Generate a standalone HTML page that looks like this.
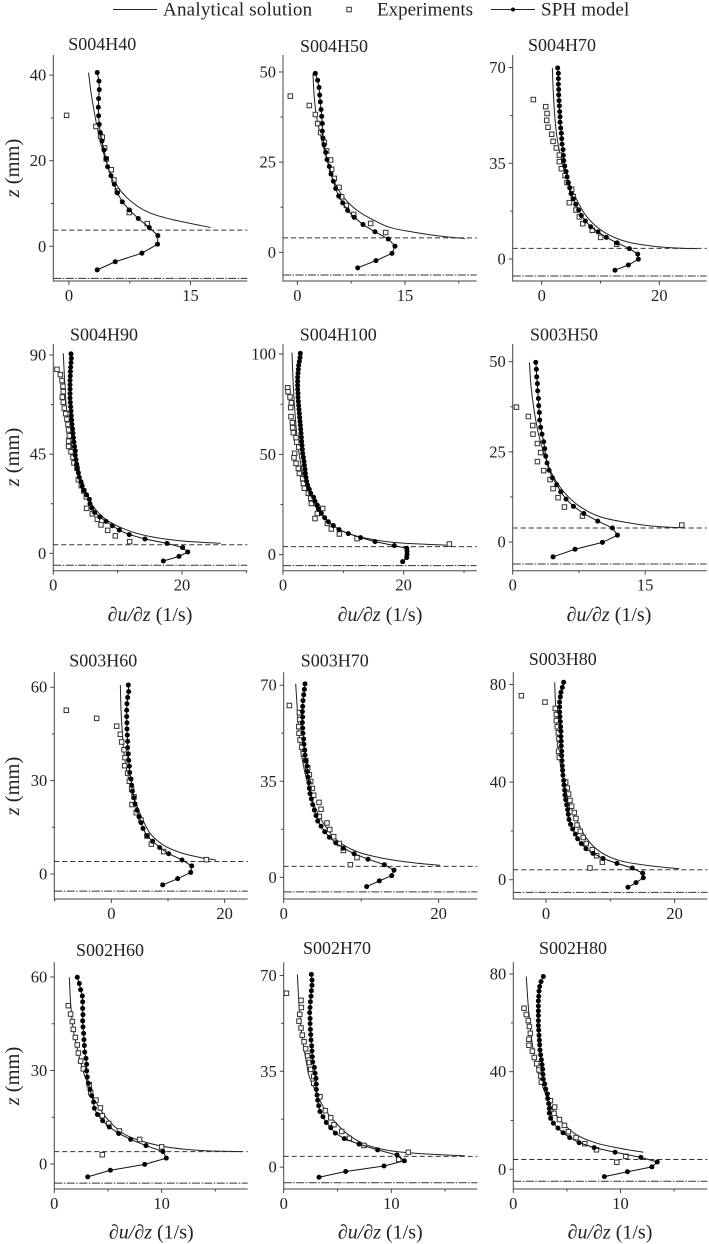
<!DOCTYPE html>
<html lang="en">
<head>
<meta charset="utf-8">
<title>Shear rate profiles</title>
<style>
html,body{margin:0;padding:0;background:#fff;}
svg{display:block;font-family:"Liberation Serif","DejaVu Serif",serif;fill:#222;filter:blur(0.25px);}
</style>
</head>
<body>
<svg id="chart" xmlns="http://www.w3.org/2000/svg" width="709" height="1244" viewBox="0 0 709 1244">
  <g>
    <line x1="113" x2="157" y1="9.5" y2="9.5" stroke="#222" stroke-width="1"/>
    <text x="163" y="15.5" font-size="19" letter-spacing="0.22">Analytical solution</text>
    <rect x="346.8" y="7.3" width="4.5" height="4.5" fill="#fff" stroke="#333" stroke-width="1"/>
    <text x="377" y="15.5" font-size="19">Experiments</text>
    <line x1="491" x2="535" y1="9.5" y2="9.5" stroke="#222" stroke-width="1"/>
    <circle cx="513" cy="9.5" r="2" fill="#000"/>
    <text x="541" y="15.5" font-size="19" letter-spacing="0.15">SPH model</text>
  </g>
  <g font-size="18" text-anchor="middle">
    <text x="102.3" y="50">S004H40</text>
    <text x="334" y="52">S004H50</text>
    <text x="562" y="51">S004H70</text>
    <text x="104" y="340.7">S004H90</text>
    <text x="338.3" y="340.7">S004H100</text>
    <text x="564" y="340.7">S003H50</text>
    <text x="103.3" y="666.7">S003H60</text>
    <text x="334.7" y="666.7">S003H70</text>
    <text x="562.7" y="665">S003H80</text>
    <text x="110" y="956">S002H60</text>
    <text x="337" y="954">S002H70</text>
    <text x="573" y="954">S002H80</text>
  </g>
  <g font-size="20.5" text-anchor="middle">
    <text transform="translate(19,168) rotate(-90)"><tspan font-style="italic">z</tspan> (mm)</text>
    <text transform="translate(19,457) rotate(-90)"><tspan font-style="italic">z</tspan> (mm)</text>
    <text transform="translate(19,786) rotate(-90)"><tspan font-style="italic">z</tspan> (mm)</text>
    <text transform="translate(19,1076) rotate(-90)"><tspan font-style="italic">z</tspan> (mm)</text>
  </g>
  <g font-size="20" text-anchor="middle">
    <text x="150" y="621"><tspan font-style="italic">∂u/∂z</tspan> (1/s)</text>
    <text x="380" y="621"><tspan font-style="italic">∂u/∂z</tspan> (1/s)</text>
    <text x="609" y="621"><tspan font-style="italic">∂u/∂z</tspan> (1/s)</text>
    <text x="151.3" y="1238.5"><tspan font-style="italic">∂u/∂z</tspan> (1/s)</text>
    <text x="380.3" y="1238.5"><tspan font-style="italic">∂u/∂z</tspan> (1/s)</text>
    <text x="610" y="1238.5"><tspan font-style="italic">∂u/∂z</tspan> (1/s)</text>
  </g>
  <g id="panels"></g>
</svg>
<script>
// ---- S004H40 ----
const s004h40AnalyticX=[2.42,2.67,3,3.41,4.03,5.06,6.29,7.93,9.99,12.86,17.47];
const s004h40AnalyticZ=[40.6,36.6,32.7,28.5,23.3,17.5,13.2,10.1,7.8,6.2,4.4];
const s004h40ExpX=[-0.29,3.33,3.9,4.11,4.4,4.6,5.22,5.55,5.96,7.44,9.66];
const s004h40ExpZ=[30.6,28,25.7,25.5,23,20.4,17.9,15.5,12.9,7.9,5.3];
const s004h40ModelX=[3.49,3.7,3.74,3.66,3.62,3.66,3.74,3.86,4.07,4.32,4.56,4.77,5.18,5.59,5.96,6.58,7.44,8.55,9.91,10.97,10.93,9,5.71,3.49];
const s004h40ModelZ=[40.6,38.6,36.6,34.5,32.5,30.5,28.5,26.6,24.6,22.5,20.5,18.6,16.5,14.5,12.5,10.4,8.5,6.5,4.4,2.5,0.5,-1.6,-3.6,-5.5];
// ---- S004H50 ----
const s004h50AnalyticX=[2.18,2.32,2.6,3.16,3.99,5.02,6.41,8.27,10.59,12.91,16.16,19.88,23.36];
const s004h50AnalyticZ=[49.6,44.1,38.5,33,26.6,20.1,15.4,11.7,8.96,6.9,5.6,4.5,3.8];
const s004h50ExpX=[-0.98,1.67,2.51,2.83,3.25,3.76,4.09,4.64,4.78,5.16,5.81,6.18,6.83,7.85,10.22,12.31];
const s004h50ExpZ=[43.3,40.7,38.2,35.7,33.2,30.5,28.1,25.6,23,20.5,18,15.4,13,10.5,8,5.5];
const s004h50ModelX=[2.51,2.83,3.02,3.11,3.2,3.3,3.39,3.48,3.48,3.58,3.72,3.95,4.13,4.46,4.69,5.02,5.34,5.76,6.32,7.01,7.94,9.15,10.82,12.68,13.61,13.19,10.96,8.41];
const s004h50ModelZ=[49.6,47.7,45.7,43.6,41.7,39.6,37.7,35.7,33.6,31.7,29.8,27.7,25.7,23.8,21.7,19.7,17.7,15.6,13.7,11.6,9.7,7.7,5.7,3.7,1.7,-0.3,-2.3,-4.3];
// ---- S004H70 ----
const s004h70AnalyticX=[1.81,1.98,2.27,2.66,3.23,4.25,5.67,7.65,10.48,14.45,19.55,24.08,26.46];
const s004h70AnalyticZ=[69.9,60.6,50.9,43.6,37.5,30.2,22.9,15.5,10,6.3,4.5,3.9,3.8];
const s004h70ExpX=[-1.42,0.68,0.91,0.85,1.08,1.7,1.93,2.49,3,3,3.34,3.97,4.31,5.1,5.38,4.7,5.84,6.4,6.97,8.61,10.03,12.75];
const s004h70ExpZ=[58.3,55.7,53.2,50.7,48.2,45.6,43,40.6,38,35.6,33,30.5,27.9,25.5,22.8,20.6,17.9,15.4,12.9,10.5,7.9,5.4];
const s004h70ModelX=[2.72,2.83,2.83,2.83,2.89,2.89,2.95,3,3.06,3.12,3.12,3.23,3.34,3.4,3.46,3.63,3.68,3.74,3.91,4.14,4.31,4.53,4.76,4.99,5.38,5.78,6.29,6.74,7.42,8.33,9.58,10.99,12.8,14.9,16.32,16.43,14.73,12.46];
const s004h70ModelZ=[69.9,67.9,65.9,63.9,62,60,57.9,56,53.9,52,50,47.9,46,44,42,40,37.9,36,34,32,30,27.9,26,23.9,22,20,17.9,15.9,13.9,11.8,9.9,7.9,5.9,3.8,1.8,-0.1,-2.2,-4.1];
// ---- S004H90 ----
const s004h90AnalyticX=[1.55,1.81,2.07,2.59,3.21,4.4,6.22,8.29,11.4,15.03,19.69,26];
const s004h90AnalyticZ=[90.8,75.6,65,54.5,42.4,30.3,21.2,15.1,10.6,7.6,5.7,4.5];
const s004h90ExpX=[0.57,1.09,1.35,1.5,1.55,1.4,1.55,1.71,1.92,2.12,2.28,2.38,2.49,2.38,2.38,2.75,3.06,3.21,3.68,3.89,4.35,4.72,5.13,5.18,6.06,6.84,7.41,8.45,9.64,11.87];
const s004h90ExpZ=[83.5,81.1,78.4,75.8,73.4,70.9,68.6,65.9,63.4,60.9,58.5,56,53.3,50.9,48.5,46.1,43.6,41,38.6,33.4,30.7,28.3,25.6,20.4,17.9,15.4,12.9,10.4,7.9,5.3];
const s004h90ModelX=[17.1,19.53,20.9,20.1,17.67,14.25,11.8,10.26,9.17,8.19,7.25,6.42,6,5.7,5.6,5.18,4.77,4.5,4.3,4.04,3.9,3.73,3.63,3.52,3.42,3.42,3.3,3.2,3.13,3.06,3,2.9,2.85,2.8,2.75,2.7,2.64,2.6,2.6,2.6,2.6,2.6,2.64,2.66,2.7,2.75,2.8,2.75];
const s004h90ModelZ=[-3.5,-1.4,0.6,2.6,4.5,6.5,8.5,10.5,12.5,14.5,16.5,18.5,20.5,22.5,24.5,26.5,28.5,30.5,32.5,34.5,36.5,38.5,40.5,42.5,44.5,46.5,48.5,50.5,52.5,54.5,56.5,58.5,60.5,62.5,64.5,66.5,68.5,70.5,72.5,74.5,76.5,78.5,80.5,82.5,84.5,86.5,88.5,90.5];
// ---- S004H100 ----
const s004h100AnalyticX=[1.49,1.71,1.99,2.38,2.93,3.65,5.03,7.24,10,13.87,18.84,27.13];
const s004h100AnalyticZ=[100.7,83.7,70.4,57.1,45.5,35.5,25.6,17.3,11.5,8.1,6,4.7];
const s004h100ExpX=[0.77,0.83,1.16,1.38,1.27,1.33,1.55,1.6,1.71,2.16,2.27,2.6,1.93,1.82,2.16,2.54,2.71,3.26,3.37,3.54,4.2,4.59,4.7,6.58,5.69,5.3,7.35,8.01,9.34,12.27,27.57];
const s004h100ExpZ=[83.2,81.2,78.6,75.7,73.3,68.8,65.8,63.3,60.8,58.3,56.1,53.6,50.5,48.3,45.5,43,40.5,37.9,35.5,33.1,30.6,28.1,25.5,23,20.5,18,15.6,12.8,10.3,8,5.3];
const s004h100ModelX=[19.83,20.5,20.55,20.55,20.5,18.45,15.25,12.87,10.83,9.28,8.34,7.51,6.91,6.35,5.91,5.69,5.3,5.08,4.59,4.36,4.09,3.92,3.81,3.7,3.65,3.54,3.48,3.37,3.26,3.2,3.15,3.09,3.04,2.98,2.93,2.87,2.82,2.76,2.71,2.65,2.6,2.54,2.49,2.49,2.43,2.43,2.43,2.43,2.49,2.54,2.6,2.71,2.82,2.87];
const s004h100ModelZ=[-3.5,-1.5,0,1.7,3.2,4.5,6.5,8.5,10.5,12.5,14.5,16.4,18.4,20.6,22.6,24.6,26.6,28.6,30.6,32.6,34.6,36.5,38.5,40.5,42.5,44.5,46.5,48.5,50.5,52.5,54.5,56.5,58.5,60.5,62.5,64.5,66.4,68.4,70.4,72.4,74.4,76.4,78.4,80.4,82.4,84.4,86.4,88.4,90.4,92.4,94.4,96.3,98.3,100.3];
// ---- S003H50 ----
const s003h50AnalyticX=[1.89,2.08,2.42,2.91,3.66,4.61,5.93,7.63,9.9,12.92,16.32,18.96];
const s003h50AnalyticZ=[49.8,43.1,36.6,30.1,23.7,18.1,13.5,9.8,7,5.4,4.3,4];
const s003h50ExpX=[0.42,1.78,2.27,2.3,2.8,3.17,2.8,3.51,4.23,4.57,5.14,5.86,7.9,19.15];
const s003h50ExpZ=[37.4,34.8,32.3,29.9,27.3,24.8,22.3,19.8,17.3,14.8,12.3,9.7,7.2,4.7];
const s003h50ModelX=[4.57,7.06,10.16,11.86,11.3,9.63,8.05,6.88,6.04,5.44,4.99,4.5,4.12,3.89,3.74,3.63,3.51,3.32,3.17,3.06,3.02,2.95,2.91,2.83,2.8,2.72,2.68,2.61];
const s003h50ModelZ=[-4.1,-2,-0.1,1.9,3.9,5.8,7.9,9.9,11.9,13.9,15.9,17.8,19.9,21.9,23.8,25.9,27.8,29.9,31.8,33.8,35.9,37.8,39.8,41.9,43.9,45.8,47.9,49.8];
// ---- S003H60 ----
const s003h60AnalyticX=[1.59,1.71,1.94,2.24,2.82,3.76,5.06,6.82,9.18,12.12,15.65,18.47];
const s003h60AnalyticZ=[60.7,52.7,45.2,38.8,32.4,25.9,19.5,13.1,9.3,6.9,5.3,4.5];
const s003h60ExpX=[-7.94,-2.59,0.94,1.59,1.82,2.24,2.41,2.35,2.88,3.18,3.59,4,3.65,4.41,5.24,6.29,7.06,9.24,16.76];
const s003h60ExpZ=[52.6,50,47.5,44.9,42.4,39.9,37.4,34.8,32.4,29.8,27.2,24.8,22.3,19.7,17.3,12.2,9.6,7.2,4.6];
const s003h60ModelX=[3,3.06,2.88,2.76,2.71,2.71,2.76,2.76,2.82,2.88,2.88,3,3.06,3.18,3.24,3.47,3.59,3.71,4,4.18,4.53,4.88,5.24,5.59,6.29,7.29,8.53,10.12,12.47,14.18,14,11.71,9.06];
const s003h60ModelZ=[60.7,58.6,56.7,54.7,52.6,50.6,48.6,46.6,44.6,42.6,40.6,38.6,36.5,34.6,32.6,30.5,28.5,26.6,24.5,22.5,20.5,18.4,16.5,14.6,12.3,10.5,8.5,6.5,4.5,2.6,0.5,-1.5,-3.5];
// ---- S003H70 ----
const s003h70AnalyticX=[1.55,1.76,2.02,2.41,2.97,3.83,5.12,6.84,9.42,12.86,16.73,20.17];
const s003h70AnalyticZ=[70.5,61,51.3,42.8,35.5,27,19.7,13.6,9.4,6.9,5.3,4.4];
const s003h70ExpX=[0.73,2.02,2.06,1.94,1.98,2.11,2.32,2.54,2.84,3.1,3.31,3.48,3.7,3.87,4.56,4.82,4.6,5.59,5.94,6.45,7.18,7.7,9.46,8.6];
const s003h70ExpZ=[62.6,60,57.5,54.9,52.5,50,47.4,45,42.5,39.9,37.4,34.9,32.4,29.9,27.3,24.8,22.2,19.8,17.4,14.8,12.3,9.8,7.2,4.6];
const s003h70ModelX=[10.71,12.34,13.94,14.24,12.99,10.88,9.08,7.7,6.71,5.89,5.29,4.82,4.39,4.17,3.96,3.74,3.57,3.4,3.31,3.27,3.14,3.05,3.01,2.88,2.75,2.71,2.62,2.58,2.49,2.45,2.41,2.45,2.41,2.45,2.49,2.58,2.67,2.75];
const s003h70ModelZ=[-3.4,-1.3,0.6,2.6,4.6,6.6,8.6,10.6,12.6,14.6,16.6,18.6,20.5,22.5,24.5,26.5,28.6,30.5,32.4,34.5,36.5,38.5,40.5,42.5,44.5,46.4,48.5,50.4,52.5,54.4,56.4,58.4,60.4,62.3,64.4,66.5,68.5,70.5];
// ---- S003H80 ----
const s003h80AnalyticX=[1.35,1.5,1.76,2.07,2.59,3.47,4.77,6.32,8.39,11.5,15.65,20.73];
const s003h80AnalyticZ=[80.9,70.9,60,50.4,42.2,32.7,24.5,16.9,11.5,7.8,5.9,4.5];
const s003h80ExpX=[-3.83,-0.16,1.45,1.61,1.61,1.76,1.92,2.02,2.12,1.97,2.07,3.06,3.32,3.52,3.73,3.99,4.4,4.66,4.82,5.34,5.8,6.27,7.2,7.88,8.76,6.84];
const s003h80ExpZ=[75.4,72.8,70.2,67.7,65.2,62.7,60.2,57.8,55.2,52.6,50.1,40,37.6,35.1,32.5,30.1,27.5,25.1,22.4,19.8,17.3,14.8,12.3,9.8,7.2,4.8];
const s003h80ModelX=[12.75,13.99,15.13,15.03,13.42,11.04,8.86,7.31,6.22,5.49,4.92,4.56,4.15,3.83,3.58,3.47,3.37,3.21,3.06,2.95,2.9,2.8,2.75,2.64,2.59,2.54,2.49,2.44,2.44,2.38,2.38,2.33,2.33,2.28,2.23,2.18,2.12,2.12,2.12,2.23,2.33,2.54,2.75];
const s003h80ModelZ=[-3.1,-1.2,0.8,2.7,4.8,6.7,8.7,10.8,12.7,14.8,16.8,18.7,20.8,22.7,24.7,26.8,28.7,30.7,32.8,34.7,36.7,38.8,40.7,42.8,44.8,46.7,48.8,50.8,52.7,54.8,56.8,58.7,60.8,62.7,64.8,66.8,68.7,70.8,72.8,74.9,76.8,78.8,80.9];
// ---- S002H60 ----
const s002h60AnalyticX=[1.4,1.52,1.77,2.24,2.86,3.79,4.88,6.43,8.29,10.78,13.88,17.45];
const s002h60AnalyticZ=[59.9,51.6,43,35.5,28,20.5,14.7,9.8,7.2,5.3,4.3,4];
const s002h60ExpX=[1.3,1.52,1.68,1.77,1.96,2.14,2.24,2.45,2.7,3.26,3.39,3.88,4.29,4.47,5.06,6.06,7.95,10,4.47];
const s002h60ExpZ=[50.8,48.1,45.7,43.2,40.6,38.2,35.6,33,30.5,25.4,22.9,20.5,18,15.5,13,10.6,7.9,5.5,3];
const s002h60ModelX=[3.11,5.22,8.42,10.43,10.12,8.54,7.11,5.99,5.12,4.5,4.01,3.73,3.66,3.48,3.32,3.17,3.07,3.01,3.01,2.95,2.83,2.8,2.76,2.73,2.67,2.64,2.67,2.64,2.64,2.61,2.45,2.33,2.14];
const s002h60ModelZ=[-4.1,-2,-0.1,1.9,4,5.9,7.9,9.8,11.9,13.9,15.9,17.9,19.9,21.9,23.9,25.9,27.9,29.9,32,33.9,35.9,38,39.9,41.9,44,45.9,47.9,49.9,52,53.9,55.9,57.9,59.9];
// ---- S002H70 ----
const s002h70AnalyticX=[1.27,1.42,1.67,2.07,2.38,3.07,3.68,4.61,5.85,7.4,9.57,12.35,16.84];
const s002h70AnalyticZ=[70.4,59.8,48.8,39.1,33,26.9,22,17.2,12.3,8.6,6.2,5,4.1];
const s002h70ExpX=[0.25,1.61,1.64,1.49,1.42,1.61,1.73,1.89,2.04,2.23,2.38,2.51,2.79,2.79,3.37,3.87,4.37,4.67,5.39,6.1,7.46,11.58,10.68];
const s002h70ExpZ=[63.5,60.9,58.3,55.8,53.3,50.8,48.2,45.8,43.2,40.7,38.2,35.7,33.1,30.6,25.7,20.6,18,15.5,13,10.5,7.9,5.4,2.8];
const s002h70ModelX=[3.28,5.76,9.32,11.21,10.53,8.73,7,5.63,4.8,4.37,3.96,3.65,3.37,3.25,3.16,3.1,3.03,3.03,3,2.91,2.85,2.69,2.66,2.63,2.6,2.54,2.51,2.48,2.45,2.45,2.41,2.45,2.48,2.54,2.57,2.63,2.63,2.57];
const s002h70ModelZ=[-3.7,-1.6,0.4,2.3,4.4,6.3,8.4,10.4,12.4,14.4,16.3,18.4,20.3,22.4,24.4,26.3,28.4,30.3,32.4,34.3,36.4,38.4,40.3,42.4,44.3,46.4,48.4,50.3,52.4,54.3,56.4,58.3,60.4,62.4,64.4,66.4,68.3,70.4];
// ---- S002H80 ----
const s002h80AnalyticX=[1.21,1.4,1.68,2.09,2.65,3.43,4.52,5.92,7.79,9.97,12.15];
const s002h80AnalyticZ=[79,66.7,54.4,43.4,35.2,26.4,19.5,14.1,10.7,8.6,7];
const s002h80ExpX=[1,1.21,1.4,1.5,1.59,1.46,1.46,1.78,1.96,2.18,2.4,2.55,2.62,3.46,3.86,3.8,4.3,4.77,5.14,5.86,6.67,7.76,10.5,9.66];
const s002h80ExpZ=[66,63.4,60.9,58.5,55.7,53.3,50.8,48.4,45.8,43.3,40.7,38.3,35.7,28.1,25.5,22.9,20.4,18,15.4,13,10.5,8,5.3,2.9];
const s002h80ModelX=[8.5,10.65,12.93,13.43,11.9,9.5,7.54,6.14,5.26,4.64,4.17,3.74,3.49,3.36,3.36,3.3,3.21,3.18,3.02,2.93,2.8,2.77,2.74,2.68,2.62,2.55,2.49,2.46,2.43,2.4,2.37,2.34,2.34,2.34,2.34,2.34,2.34,2.37,2.4,2.46,2.59,2.8];
const s002h80ModelZ=[-3,-1,1,3,4.9,7,8.9,10.9,13,15,16.9,18.9,20.9,23,24.9,26.9,29,30.9,32.9,35,36.9,38.9,41,42.9,44.9,46.9,48.9,51,52.9,54.9,57,58.9,60.9,63,64.9,66.9,69,70.9,73,74.9,76.9,79];

// Reference levels (free surface / bed), in mm, one per panel
const dashedLevels=[3.8,4,3.9,3.9,4,3.9,4,4,4.1,4,3.9,4];
const dashDotLevels=[-7.5,-6.3,-6.2,-5.4,-5.5,-6.1,-5.5,-5.3,-5.2,-6.1,-5.7,-4.9];

// Tick labels per panel
const xMajorTicks=[[0,15],[0,15],[0,20],[0,20],[0,20],[0,15],[0,20],[0,20],[0,20],[0,10],[0,10],[0,10]];
const xMinorTicks=[[7.5],[7.5,22.5],[10],[10,30],[10,30],[7.5],[-10,10],[10],[10],[5,15],[5,15],[5,15]];
const yMajorTicks=[[0,20,40],[0,25,50],[0,35,70],[0,45,90],[0,50,100],[0,25,50],[0,30,60],[0,35,70],[0,40,80],[0,30,60],[0,35,70],[0,40,80]];
const yMinorTicks=[[10,30],[12.5,37.5],[17.5,52.5],[22.5,67.5],[25,75],[12.5,37.5],[15,45],[17.5,52.5],[20,60],[15,45],[17.5,52.5],[20,60]];

// Axis domains
const xDomains=[[-1.93,22],[-2,25],[-4.93,28.05],[0,30.15],[0,32.1],[0,21.97],[-10.06,24.06],[0,24.99],[-5.08,25.08],[0,18.01],[0,17.99],[0,18.1]];
const yDomains=[[-8.1,44.7],[-7.95,54.7],[-8.05,74.6],[-7.9,95],[-8,105],[-7.95,54.9],[-8.04,64.8],[-7.9,74.7],[-7.9,85],[-8,64.7],[-8,74.8],[-8.06,84.8]];

const panelNames=['s004h40','s004h50','s004h70','s004h90','s004h100','s003h50','s003h60','s003h70','s003h80','s002h60','s002h70','s002h80'];
const analyticXs=[s004h40AnalyticX,s004h50AnalyticX,s004h70AnalyticX,s004h90AnalyticX,s004h100AnalyticX,s003h50AnalyticX,s003h60AnalyticX,s003h70AnalyticX,s003h80AnalyticX,s002h60AnalyticX,s002h70AnalyticX,s002h80AnalyticX];
const analyticZs=[s004h40AnalyticZ,s004h50AnalyticZ,s004h70AnalyticZ,s004h90AnalyticZ,s004h100AnalyticZ,s003h50AnalyticZ,s003h60AnalyticZ,s003h70AnalyticZ,s003h80AnalyticZ,s002h60AnalyticZ,s002h70AnalyticZ,s002h80AnalyticZ];
const expXs=[s004h40ExpX,s004h50ExpX,s004h70ExpX,s004h90ExpX,s004h100ExpX,s003h50ExpX,s003h60ExpX,s003h70ExpX,s003h80ExpX,s002h60ExpX,s002h70ExpX,s002h80ExpX];
const expZs=[s004h40ExpZ,s004h50ExpZ,s004h70ExpZ,s004h90ExpZ,s004h100ExpZ,s003h50ExpZ,s003h60ExpZ,s003h70ExpZ,s003h80ExpZ,s002h60ExpZ,s002h70ExpZ,s002h80ExpZ];
const modelXs=[s004h40ModelX,s004h50ModelX,s004h70ModelX,s004h90ModelX,s004h100ModelX,s003h50ModelX,s003h60ModelX,s003h70ModelX,s003h80ModelX,s002h60ModelX,s002h70ModelX,s002h80ModelX];
const modelZs=[s004h40ModelZ,s004h50ModelZ,s004h70ModelZ,s004h90ModelZ,s004h100ModelZ,s003h50ModelZ,s003h60ModelZ,s003h70ModelZ,s003h80ModelZ,s002h60ModelZ,s002h70ModelZ,s002h80ModelZ];

// Layout of each plot frame on the page
const frames=[
 {l:53.3,r:247.3,t:55,b:281},{l:283,r:476.7,t:55,b:281},{l:512.7,r:706.7,t:55,b:281},
 {l:53.3,r:247.3,t:344,b:570.7},{l:283,r:476.7,t:344,b:570.7},{l:512.7,r:706.7,t:344,b:570.7},
 {l:54.3,r:247.7,t:672.3,b:899},{l:283.7,r:477.3,t:672.3,b:899},{l:513.3,r:707.3,t:672.3,b:899},
 {l:54.3,r:247.7,t:962.3,b:1189},{l:283.7,r:477.3,t:962.3,b:1189},{l:513.3,r:707.3,t:962.3,b:1189}
];

const NS='http://www.w3.org/2000/svg';
const AXIS_COLOR='#444';

function make(tag,attrs,parent){
  const el=document.createElementNS(NS,tag);
  for(const k in attrs){el.setAttribute(k,attrs[k]);}
  parent.appendChild(el);
  return el;
}
function linearScale(domain,r0,r1){
  return function(v){return r0+(v-domain[0])/(domain[1]-domain[0])*(r1-r0);};
}
function smoothPath(pts){
  let d='M'+pts[0][0].toFixed(2)+' '+pts[0][1].toFixed(2);
  for(let i=0;i<pts.length-1;i++){
    const p0=pts[Math.max(0,i-1)],p1=pts[i],p2=pts[i+1],p3=pts[Math.min(pts.length-1,i+2)];
    const c1x=p1[0]+(p2[0]-p0[0])/6,c1y=p1[1]+(p2[1]-p0[1])/6;
    const c2x=p2[0]-(p3[0]-p1[0])/6,c2y=p2[1]-(p3[1]-p1[1])/6;
    d+='C'+c1x.toFixed(2)+' '+c1y.toFixed(2)+' '+c2x.toFixed(2)+' '+c2y.toFixed(2)+' '+p2[0].toFixed(2)+' '+p2[1].toFixed(2);
  }
  return d;
}

const root=document.getElementById('panels');
panelNames.forEach(function(name,idx){
  const f=frames[idx];
  const sx=linearScale(xDomains[idx],f.l,f.r);
  const sy=linearScale(yDomains[idx],f.b,f.t);

  const g=make('g',{},root);
  
  

  // reference lines
  const dashed=make('line',{x1:f.l,x2:f.r,y1:sy(dashedLevels[idx]),y2:sy(dashedLevels[idx]),stroke:'#333','stroke-width':1,'stroke-dasharray':'5 3'},g);
  
  
  const dashDot=make('line',{x1:f.l,x2:f.r,y1:sy(dashDotLevels[idx]),y2:sy(dashDotLevels[idx]),stroke:'#333','stroke-width':1,'stroke-dasharray':'8 1.5 1.5 1.5'},g);
  
  

  // axes
  const yAxis=make('line',{x1:f.l,x2:f.l,y1:f.t,y2:f.b+0.5,stroke:AXIS_COLOR,'stroke-width':1},g);
  
  
  const xAxis=make('line',{x1:f.l,x2:f.r,y1:f.b,y2:f.b,stroke:AXIS_COLOR,'stroke-width':1},g);
  
  

  xMajorTicks[idx].forEach(function(v){
    const t=make('line',{x1:sx(v),x2:sx(v),y1:f.b,y2:f.b+4,stroke:AXIS_COLOR,'stroke-width':1},g);
    
    
    const lab=make('text',{x:sx(v),y:f.b+20,'font-size':16.5,'text-anchor':'middle'},g);
    lab.textContent=String(v);
    
    
  });
  xMinorTicks[idx].forEach(function(v){
    const t=make('line',{x1:sx(v),x2:sx(v),y1:f.b,y2:f.b+2.5,stroke:AXIS_COLOR,'stroke-width':1},g);
    
    
  });
  yMajorTicks[idx].forEach(function(v){
    const t=make('line',{x1:f.l-4,x2:f.l,y1:sy(v),y2:sy(v),stroke:AXIS_COLOR,'stroke-width':1},g);
    
    
    const lab=make('text',{x:f.l-7,y:sy(v)+5.5,'font-size':16.5,'text-anchor':'end'},g);
    lab.textContent=String(v);
    
    
  });
  yMinorTicks[idx].forEach(function(v){
    const t=make('line',{x1:f.l-2.5,x2:f.l,y1:sy(v),y2:sy(v),stroke:AXIS_COLOR,'stroke-width':1},g);
    
    
  });

  // analytical solution curve
  const aPts=analyticXs[idx].map(function(x,i){return [sx(x),sy(analyticZs[idx][i])];});
  const aLine=make('path',{d:smoothPath(aPts),fill:'none',stroke:'#222','stroke-width':1},g);
  
  

  // experiments
  expXs[idx].forEach(function(x,i){
    const s=make('rect',{x:sx(x)-2.25,y:sy(expZs[idx][i])-2.25,width:4.5,height:4.5,fill:'#fff',stroke:'#333','stroke-width':1},g);
    
    
  });

  // SPH model
  const mPts=modelXs[idx].map(function(x,i){return sx(x).toFixed(2)+','+sy(modelZs[idx][i]).toFixed(2);});
  const mLine=make('polyline',{points:mPts.join(' '),fill:'none',stroke:'#111','stroke-width':1},g);
  
  
  modelXs[idx].forEach(function(x,i){
    const c=make('circle',{cx:sx(x),cy:sy(modelZs[idx][i]),r:2.5,fill:'#000'},g);
    
    
  });
});
</script>
</body>
</html>
